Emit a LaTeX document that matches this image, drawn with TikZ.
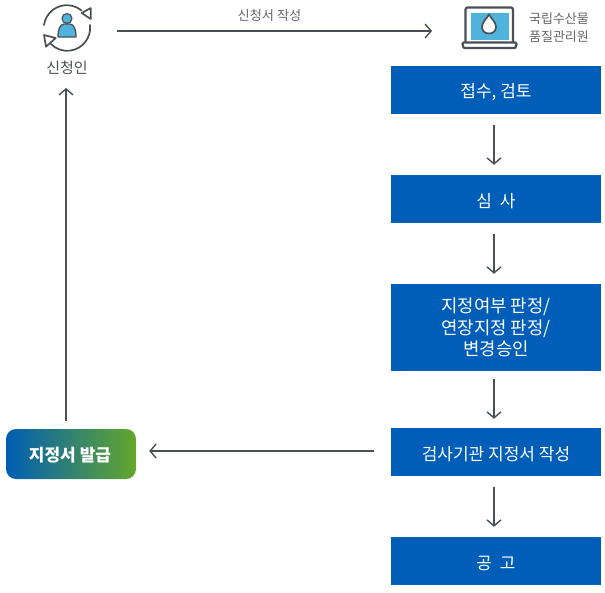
\documentclass[tikz,border=0pt]{standalone}
\usepackage{fontspec}
\setmainfont{Noto Sans CJK KR}
\usetikzlibrary{arrows.meta}
\definecolor{boxblue}{HTML}{005EB8}
\definecolor{ink}{HTML}{4A4F55}
\definecolor{grayt}{HTML}{666666}
\definecolor{sky}{HTML}{4FB3DC}
\definecolor{gleft}{HTML}{005EB4}
\definecolor{gmid}{HTML}{1A93A8}
\definecolor{gright}{HTML}{64A72C}
\newcommand\lowr[1]{\raisebox{-2pt}[\height][\depth]{#1}}
\tikzset{
  x=1pt,y=-1pt,
  flowbox/.style={fill=boxblue,text=white,minimum width=210pt,align=center,inner sep=0pt,font=\fontsize{17}{21.5}\selectfont},
  flowarrow/.style={draw=ink,line width=1.4pt,-{Straight Barb[length=6pt,width=14pt,line width=1.4pt]}},
  icon/.style={draw=ink,line width=1.7pt,line join=round,line cap=round},
  graylabel/.style={text=grayt,inner sep=0pt,align=center}
}
\begin{document}
\begin{tikzpicture}
\useasboundingbox (0,0) rectangle (605,592);
\node[flowbox,minimum height=48.5pt] (receive) at (496,90.2) {\lowr{접수, 검토}};
\node[flowbox,minimum height=48.5pt] (review) at (496,199.2) {\lowr{심\hspace{8pt}사}};
\node[flowbox,minimum height=87pt,font=\fontsize{17.8}{21.7}\selectfont] (judge) at (496,327.5) {지정여부 판정/\\연장지정 판정/\\변경승인};
\node[flowbox,minimum height=48.5pt] (write) at (496,452.2) {\lowr{검사기관 지정서 작성}};
\node[flowbox,minimum height=48.5pt] (notice) at (496,561.2) {\lowr{공\hspace{8pt}고}};
\node[minimum width=130pt,minimum height=50pt,inner sep=0pt,rounded corners=10pt,text=white,
  left color=gleft,middle color=gmid,right color=gright,
  font=\fontsize{17}{20}\selectfont\bfseries] (issue) at (71,454) {\hspace{-2pt}\raisebox{-1pt}[\height][\depth]{지정서 발급}};
\node[graylabel,font=\fontsize{15}{16}\selectfont,text=ink] (applicant) at (67,68) {신청인};
\node[graylabel,font=\fontsize{13}{18}\selectfont] (inst) at (559,28) {국립수산물\\품질관리원};
\node[graylabel,font=\fontsize{13.2}{14}\selectfont] (applabel) at (269.5,15.5) {신청서 작성};
% applicant icon
\draw[icon] (44,25) arc[start angle=172,end angle=50,radius=23pt];
\draw[icon] (90,25) arc[start angle=7,end angle=-135,radius=23pt];
\draw[icon,fill=white] (81.7,13) -- (90.7,8) -- (90.7,19) -- cycle;
\draw[icon,fill=white] (55.7,38) -- (44,35) -- (46,46.7) -- cycle;
\fill[ink] (67,18.5) circle (5.6pt);
\fill[sky] (67,18.5) circle (4.2pt);
\draw[line width=1.3pt,draw=ink,fill=sky,line join=round] (58,37) .. controls (58,29) and (60,24.5) .. (64,24) -- (70,24) .. controls (74,24.5) and (76,29) .. (76,37) -- cycle;
% laptop icon
\draw[icon,line width=2.2pt,rounded corners=2pt] (465.5,43) -- (465.5,7.5) -- (513,7.5) -- (513,43);
\fill[sky] (470.5,12.5) rectangle (508.5,40);
\draw[icon,line width=2.2pt,fill=white,rounded corners=1.5pt] (462,42.5) -- (517,42.5) -- (516,46) .. controls (515.5,47.5) and (514,48) .. (513,48) -- (466,48) .. controls (465,48) and (463.5,47.5) .. (463,46) -- cycle;
\draw[icon,fill=white] (489,14.5) .. controls (491.5,19) and (496,22) .. (496,27) .. controls (496,31) and (493,33.5) .. (489,33.5) .. controls (485,33.5) and (482,31) .. (482,27) .. controls (482,22) and (486.5,19) .. (489,14.5) -- cycle;
% connectors
\coordinate (topstart) at (117,31);
\coordinate (topend) at (432,31);
\draw[flowarrow] (topstart) -- (topend);
\draw[flowarrow,shorten <=10pt,shorten >=10pt] ([xshift=-2pt]receive.south) -- ([xshift=-2pt]review.north);
\draw[flowarrow,shorten <=10pt,shorten >=10pt] ([xshift=-2pt]review.south) -- ([xshift=-2pt]judge.north);
\draw[flowarrow,shorten <=8pt,shorten >=9pt] ([xshift=-2pt]judge.south) -- ([xshift=-2pt]write.north);
\draw[flowarrow,shorten <=10pt,shorten >=10pt] ([xshift=-2pt]write.south) -- ([xshift=-2pt]notice.north);
\draw[flowarrow,shorten <=17pt,shorten >=13pt] (write.west |- 0,451) -- (issue.east |- 0,451);
\draw[flowarrow,shorten <=8pt] (66,429) -- (66,88);
\end{tikzpicture}
\end{document}
